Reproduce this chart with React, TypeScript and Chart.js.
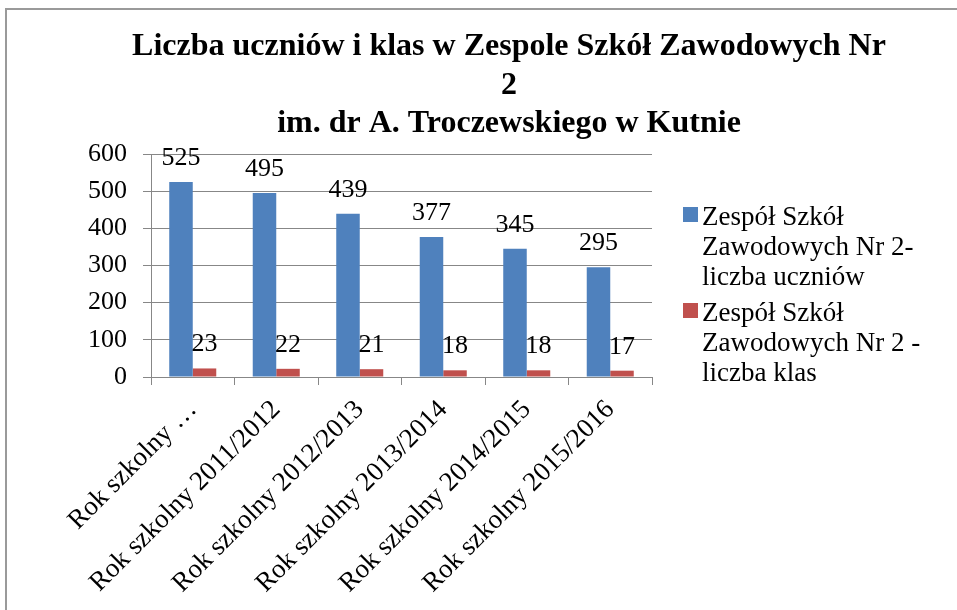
import React, { useEffect, useRef } from "react";
import { Chart, registerables } from "chart.js";

Chart.register(...registerables);

const FONT = "'Liberation Serif', 'Times New Roman', serif";

const titleLines = [
  "Liczba uczniów i klas w Zespole Szkół Zawodowych Nr",
  "2",
  "im. dr A. Troczewskiego w Kutnie",
];

const categories = [
  "Rok szkolny …",
  "Rok szkolny 2011/2012",
  "Rok szkolny 2012/2013",
  "Rok szkolny 2013/2014",
  "Rok szkolny 2014/2015",
  "Rok szkolny 2015/2016",
];

const students = [525, 495, 439, 377, 345, 295];
const classes = [23, 22, 21, 18, 18, 17];

const studentsLegend = ["Zespół Szkół", "Zawodowych Nr 2-", "liczba uczniów"];
const classesLegend = ["Zespół Szkół", "Zawodowych Nr 2 -", "liczba klas"];

const yMin = 0;
const yMax = 600;
const yStep = 100;

const BLUE = "#4F81BD";
const RED = "#C0504D";
const GRID = "#878787";

const CANVAS_W = 1004;
const CANVAS_H = 600;

const legendLines = [studentsLegend, classesLegend];

const dataLabelPlugin = {
  id: "dataLabels",
  afterDatasetsDraw(chart: any) {
    const { ctx } = chart;
    ctx.save();
    ctx.font = `26px ${FONT}`;
    ctx.fillStyle = "#000";
    ctx.textAlign = "center";
    ctx.textBaseline = "alphabetic";
    chart.data.datasets.forEach((ds: any, i: number) => {
      const meta = chart.getDatasetMeta(i);
      meta.data.forEach((el: any, j: number) => {
        ctx.fillText(String(ds.data[j]), el.x, el.y - 17);
      });
    });
    ctx.restore();
  },
};

const sideLegendPlugin = {
  id: "sideLegend",
  afterDraw(chart: any) {
    const { ctx, chartArea } = chart;
    const x0 = chartArea.right + 31;
    let y = chartArea.top + 53;
    const lh = 30;
    ctx.save();
    ctx.font = `27px ${FONT}`;
    ctx.textBaseline = "middle";
    ctx.textAlign = "left";
    chart.data.datasets.forEach((ds: any, i: number) => {
      const lines = legendLines[i];
      ctx.fillStyle = ds.backgroundColor;
      ctx.fillRect(x0, y, 15, 15);
      ctx.fillStyle = "#000";
      lines.forEach((ln: string, k: number) => {
        ctx.fillText(ln, x0 + 19, y + 11 + k * lh);
      });
      y += lines.length * lh + 6;
    });
    ctx.restore();
  },
};

export default function App() {
  const ref = useRef<HTMLCanvasElement>(null);

  useEffect(() => {
    if (!ref.current) return;
    const chart = new Chart(ref.current, {
      type: "bar",
      data: {
        labels: categories,
        datasets: [
          {
            label: studentsLegend.join(" "),
            data: students,
            backgroundColor: BLUE,
            categoryPercentage: 0.563,
            barPercentage: 1,
          },
          {
            label: classesLegend.join(" "),
            data: classes,
            backgroundColor: RED,
            categoryPercentage: 0.563,
            barPercentage: 1,
          },
        ],
      },
      options: {
        animation: false,
        responsive: false,
        maintainAspectRatio: false,
        layout: { padding: { left: 0, right: 0, top: 0, bottom: 0 } },
        plugins: {
          legend: { display: false },
          tooltip: { enabled: false },
          title: {
            display: true,
            text: titleLines,
            color: "#000",
            font: { family: FONT, size: 32, weight: "bold", lineHeight: 1.2 },
            padding: { top: 18, bottom: 10.8 },
          },
        },
        scales: {
          x: {
            grid: {
              display: true,
              drawOnChartArea: false,
              drawTicks: true,
              tickLength: 8,
              color: GRID,
              offset: true,
            },
            border: { display: true, color: GRID, width: 1 },
            ticks: {
              autoSkip: false,
              maxRotation: 45,
              minRotation: 45,
              color: "#000",
              padding: 9,
              font: { family: FONT, size: 27 },
            },
            afterFit: (s: any) => {
              s.height = CANVAS_H - 367;
            },
          },
          y: {
            min: yMin,
            max: yMax,
            ticks: {
              stepSize: yStep,
              color: "#000",
              padding: 16,
              font: { family: FONT, size: 26 },
            },
            grid: { color: GRID, tickLength: 8, drawTicks: true },
            border: { display: true, color: GRID, width: 1 },
            afterFit: (s: any) => {
              s.width = 144;
            },
          },
          yRight: {
            position: "right",
            display: true,
            grid: { display: false },
            border: { display: false },
            ticks: { display: false },
            afterFit: (s: any) => {
              s.width = CANVAS_W - 645;
            },
          },
        },
      },
      plugins: [dataLabelPlugin, sideLegendPlugin],
    });
    return () => chart.destroy();
  }, []);

  return (
    <div
      style={{
        position: "fixed",
        left: 0,
        top: 0,
        width: 957,
        height: 610,
        overflow: "hidden",
        background: "#fff",
      }}
    >
      <div
        style={{
          position: "absolute",
          left: 5,
          top: 8,
          borderLeft: "2px solid #9a9a9a",
          borderTop: "2px solid #9a9a9a",
          width: CANVAS_W,
          height: CANVAS_H,
        }}
      >
        <canvas
          ref={ref}
          width={CANVAS_W}
          height={CANVAS_H}
          style={{ display: "block", width: CANVAS_W, height: CANVAS_H }}
        />
      </div>
    </div>
  );
}
